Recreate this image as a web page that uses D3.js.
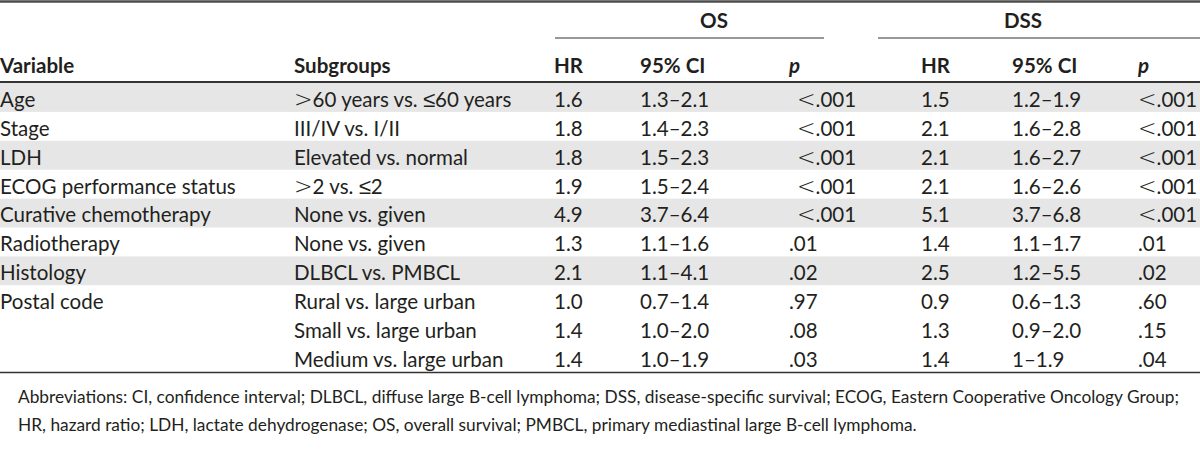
<!DOCTYPE html>
<html><head><meta charset="utf-8">
<script src="https://cdn.jsdelivr.net/npm/d3@7"></script>
<style>html,body{margin:0;padding:0;background:#fff;}svg{display:block;}</style>
</head><body>
<svg id="c" width="1200" height="462"></svg>
<script>
// ---- data ----
const variables = ["Age","Stage","LDH","ECOG performance status","Curative chemotherapy","Radiotherapy","Histology","Postal code","",""];
const subgroups = [">60 years vs. \u226460 years","III/IV vs. I/II","Elevated vs. normal",">2 vs. \u22642","None vs. given","None vs. given","DLBCL vs. PMBCL","Rural vs. large urban","Small vs. large urban","Medium vs. large urban"];
const osHR = ["1.6","1.8","1.8","1.9","4.9","1.3","2.1","1.0","1.4","1.4"];
const osCI = ["1.3\u20132.1","1.4\u20132.3","1.5\u20132.3","1.5\u20132.4","3.7\u20136.4","1.1\u20131.6","1.1\u20134.1","0.7\u20131.4","1.0\u20132.0","1.0\u20131.9"];
const osP = ["<.001","<.001","<.001","<.001","<.001",".01",".02",".97",".08",".03"];
const dssHR = ["1.5","2.1","2.1","2.1","5.1","1.4","2.5","0.9","1.3","1.4"];
const dssCI = ["1.2\u20131.9","1.6\u20132.8","1.6\u20132.7","1.6\u20132.6","3.7\u20136.8","1.1\u20131.7","1.2\u20135.5","0.6\u20131.3","0.9\u20132.0","1\u20131.9"];
const dssP = ["<.001","<.001","<.001","<.001","<.001",".01",".02",".60",".15",".04"];
const groupHeaders = ["OS","DSS"];
const colHeaders = ["Variable","Subgroups","HR","95% CI","p","HR","95% CI","p"];
const shaded = [true,false,true,false,true,false,true,false,false,false];
const footnote = ["Abbreviations: CI, confidence interval; DLBCL, diffuse large B-cell lymphoma; DSS, disease-specific survival; ECOG, Eastern Cooperative Oncology Group;",
"HR, hazard ratio; LDH, lactate dehydrogenase; OS, overall survival; PMBCL, primary mediastinal large B-cell lymphoma."];

// ---- layout ----
const W = 1200;
const FONT = "Lato, 'Open Sans', sans-serif";
const SYMFONT = "'DejaVu Sans', sans-serif";
const colX = [0, 294, 554, 640, 789, 921, 1012, 1138];
const symOffset = {4: 8, 7: 0};
const svg = d3.select("#c");
const textColor = "#231f20";

function measure(str, size, weight) {
  const t = svg.append("text").attr("font-family", FONT).attr("font-size", size).attr("font-weight", weight||"normal").text(str);
  const w = t.node().getComputedTextLength(); t.remove(); return w;
}
const bodySize = 100 * 211 / measure("Curative chemotherapy", 100);
const footSize = 100 * 1162 / measure(footnote[0], 100);

const rows = d3.range(variables.length);
const y = d3.scaleBand().domain(rows).range([83, 372]).padding(0);

// shading
svg.append("g").selectAll("rect").data(rows.filter(i => shaded[i])).join("rect")
  .attr("x", 0).attr("width", W).attr("y", i => y(i)).attr("height", y.bandwidth())
  .attr("fill", "#e6e6e6");

// rules
svg.append("line").attr("x1",0).attr("x2",W).attr("y1",1.5).attr("y2",1.5).attr("stroke","#4d4d4d").attr("stroke-width",2.5);
svg.append("line").attr("x1",555).attr("x2",824).attr("y1",38).attr("y2",38).attr("stroke","#333").attr("stroke-width",1.2);
svg.append("line").attr("x1",878).attr("x2",W).attr("y1",38).attr("y2",38).attr("stroke","#333").attr("stroke-width",1.2);
svg.append("line").attr("x1",0).attr("x2",W).attr("y1",82).attr("y2",82).attr("stroke","#333").attr("stroke-width",1.8);
svg.append("line").attr("x1",0).attr("x2",W).attr("y1",372.5).attr("y2",372.5).attr("stroke","#333").attr("stroke-width",1.5);

// group headers
const gx = [714, 1023];
svg.append("g").selectAll("text").data(groupHeaders).join("text")
  .attr("x", (d,i) => gx[i]).attr("y", 28).attr("text-anchor","middle")
  .attr("font-family", FONT).attr("font-size", bodySize).attr("font-weight","bold").attr("fill", textColor)
  .text(d => d);

// column headers
svg.append("g").selectAll("text").data(colHeaders).join("text")
  .attr("x", (d,i) => colX[i]).attr("y", 73)
  .attr("font-family", FONT).attr("font-size", bodySize).attr("font-weight","bold")
  .attr("font-style", d => d === "p" ? "italic" : "normal").attr("fill", textColor)
  .text(d => d);

// body cells
const columns = [variables, subgroups, osHR, osCI, osP, dssHR, dssCI, dssP];
const cells = [];
columns.forEach((col, ci) => col.forEach((v, ri) => { if (v) cells.push({ci, ri, v}); }));
const cellText = svg.append("g").selectAll("text").data(cells).join("text")
  .attr("x", d => colX[d.ci]).attr("y", d => y(d.ri) + y.bandwidth()/2 + bodySize*0.36 + 2)
  .attr("font-family", FONT).attr("font-size", bodySize).attr("fill", textColor);
cellText.each(function(d) {
  const el = d3.select(this);
  const parts = d.v.split(/([<>\u2264\u2265])/).filter(s => s !== "");
  parts.forEach((p, k) => {
    const sym = /^[<>\u2264\u2265]$/.test(p);
    const ts = el.append("tspan").text(p);
    if (sym) {
      ts.attr("font-family", SYMFONT).attr("font-weight", 300).attr("font-size", bodySize * 1.08);
      if (k === 0 && symOffset[d.ci]) ts.attr("dx", symOffset[d.ci]);
    }
  });
});

// footnote
svg.append("g").selectAll("text").data(footnote).join("text")
  .attr("x", 18).attr("y", (d,i) => 403 + i*28)
  .attr("font-family", FONT).attr("font-size", footSize).attr("fill", textColor)
  .text(d => d);
</script>
</body></html>
